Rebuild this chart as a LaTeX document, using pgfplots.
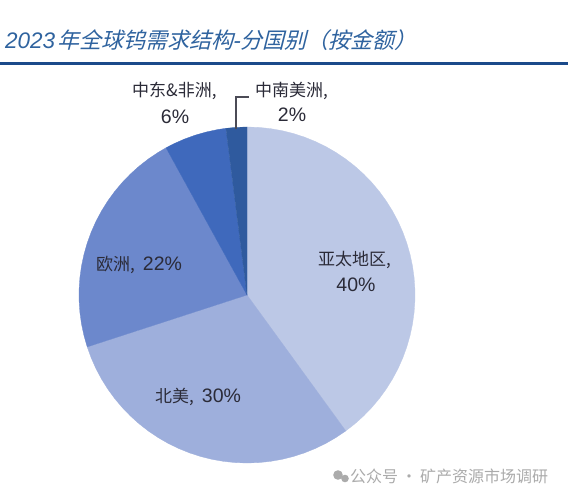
\documentclass[border=0pt]{standalone}
\usepackage{pgfplots}
\usepackage{fontspec}
\pgfplotsset{compat=1.18}
\usepgfplotslibrary{polar}
\setmainfont{Liberation Sans}
\newfontfamily\cjk{Noto Sans CJK SC}
\newfontfamily\cjkslant[FakeSlant=0.25]{Noto Sans CJK SC}
\definecolor{sA}{HTML}{BCC8E6}
\definecolor{sB}{HTML}{9EAFDC}
\definecolor{sC}{HTML}{6C88CC}
\definecolor{sD}{HTML}{3F69BC}
\definecolor{sE}{HTML}{2F5A9E}
\definecolor{ruleblue}{HTML}{1B4A8A}
\definecolor{titleblue}{HTML}{2F639F}
\definecolor{txt}{HTML}{2B2B38}
\definecolor{wm}{HTML}{ABABAB}
\begin{document}
\begin{tikzpicture}[x=1pt,y=1pt]
\path[use as bounding box] (0,0) rectangle (568,498);
\fill[white] (0,0) rectangle (568,498);
\begin{polaraxis}[at={(247pt,203pt)},anchor=center,width=336pt,height=336pt,scale only axis,
  hide axis,clip=false,ymin=0,ymax=168,xmin=0,xmax=360]
\addplot[fill=sA,draw=sA,line width=0.3pt,no markers] coordinates {(0,0) (90,168) (86,168) (82,168) (78,168) (74,168) (70,168) (66,168) (62,168) (58,168) (54,168) (50,168) (46,168) (42,168) (38,168) (34,168) (30,168) (26,168) (22,168) (18,168) (14,168) (10,168) (6,168) (2,168) (-2,168) (-6,168) (-10,168) (-14,168) (-18,168) (-22,168) (-26,168) (-30,168) (-34,168) (-38,168) (-42,168) (-46,168) (-50,168) (-54,168)} --cycle;
\addplot[fill=sB,draw=sB,line width=0.3pt,no markers] coordinates {(0,0) (-54,168) (-58,168) (-62,168) (-66,168) (-70,168) (-74,168) (-78,168) (-82,168) (-86,168) (-90,168) (-94,168) (-98,168) (-102,168) (-106,168) (-110,168) (-114,168) (-118,168) (-122,168) (-126,168) (-130,168) (-134,168) (-138,168) (-142,168) (-146,168) (-150,168) (-154,168) (-158,168) (-162,168)} --cycle;
\addplot[fill=sC,draw=sC,line width=0.3pt,no markers] coordinates {(0,0) (-162,168) (-166,168) (-170,168) (-174,168) (-178,168) (-182,168) (-186,168) (-190,168) (-194,168) (-198,168) (-202,168) (-206,168) (-210,168) (-214,168) (-218,168) (-222,168) (-226,168) (-230,168) (-234,168) (-238,168) (-241.2,168)} --cycle;
\addplot[fill=sD,draw=sD,line width=0.3pt,no markers] coordinates {(0,0) (-241.2,168) (-244,168) (-248,168) (-252,168) (-256,168) (-260,168) (-262.8,168)} --cycle;
\addplot[fill=sE,draw=sE,line width=0.3pt,no markers] coordinates {(0,0) (-262.8,168) (-266,168) (-270,168)} --cycle;
\end{polaraxis}
% title and rule
\node[anchor=west,inner sep=0,text=titleblue] at (5,458) {\fontsize{22.5}{22.5}\selectfont\itshape 2023\kern2pt{\cjkslant\fontsize{22}{23}\selectfont 年全球钨需求结构}-{\cjkslant\fontsize{22}{23}\selectfont 分国别（按金额）}};
\fill[ruleblue] (0,432.5) rectangle (568,435.5);
% leader
\draw[color=txt!85,line width=1.3pt] (236,369) -- (236,401) -- (249,401);
% labels
\node[text=txt,inner sep=0,anchor=west] at (132,407) {\fontsize{17}{17}\selectfont\cjk 中东\&非洲,};
\node[text=txt,inner sep=0] at (175,381) {\fontsize{19.5}{19.5}\selectfont 6\%};
\node[text=txt,inner sep=0,anchor=west] at (255,407) {\fontsize{17}{17}\selectfont\cjk 中南美洲,};
\node[text=txt,inner sep=0] at (292,383) {\fontsize{19.5}{19.5}\selectfont 2\%};
\node[text=txt,inner sep=0,anchor=west] at (318,238) {\fontsize{17}{17}\selectfont\cjk 亚太地区,};
\node[text=txt,inner sep=0] at (356,213) {\fontsize{19.5}{19.5}\selectfont 40\%};
\node[text=txt,inner sep=0,anchor=west] at (155,101) {{\fontsize{17}{17}\selectfont\cjk 北美,\kern8pt}\fontsize{19.5}{19.5}\selectfont 30\%};
\node[text=txt,inner sep=0,anchor=west] at (96,233) {{\fontsize{17}{17}\selectfont\cjk 欧洲,\kern8pt}\fontsize{19.5}{19.5}\selectfont 22\%};
% watermark
\fill[wm] (338,23) circle (4.8);
\fill[wm] (345,19.5) circle (3.8);
\node[text=wm,anchor=west,inner sep=0] at (350,22) {\fontsize{16}{16}\selectfont\cjk 公众号\kern3pt·\kern3pt 矿产资源市场调研};
\end{tikzpicture}
\end{document}
